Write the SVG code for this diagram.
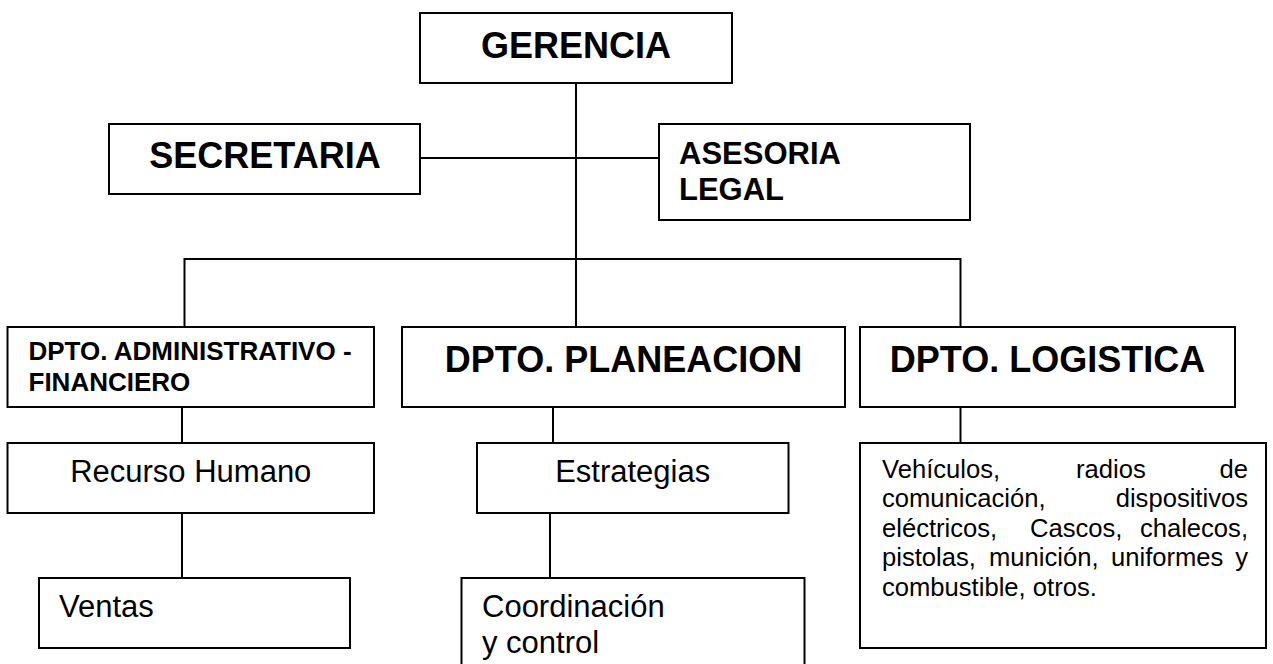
<svg xmlns="http://www.w3.org/2000/svg" width="1273" height="664" viewBox="0 0 1273 664">
<style>
.box{fill:#fff;stroke:#000;stroke-width:2}
.ln{fill:none;stroke:#000;stroke-width:2}
.t{font-family:"Liberation Sans",Arial,sans-serif;fill:#000}
.b36{font-weight:bold;font-size:36px}
.b31{font-weight:bold;font-size:31px}
.b26{font-weight:bold;font-size:26px}
.r31{font-size:31px}
.r26{font-size:25.6px}
.c{text-anchor:middle}
.e{text-anchor:end}
</style>
<rect width="1273" height="664" fill="#fff"/>
<g id="connectors">
<path class="ln" d="M576,83V327"/>
<path class="ln" d="M420,158H659"/>
<path class="ln" d="M184.5,327V259H960.5V327"/>
<path class="ln" d="M182,407V443"/>
<path class="ln" d="M553,407V443"/>
<path class="ln" d="M960.5,407V443"/>
<path class="ln" d="M182,513V578"/>
<path class="ln" d="M550,513V578"/>
</g>
<g id="gerencia">
<rect class="box" x="420" y="13" width="312" height="70"/>
<text class="t b36 c" x="576" y="58">GERENCIA</text>
</g>
<g id="secretaria">
<rect class="box" x="109" y="124" width="311" height="70"/>
<text class="t b36 c" x="265" y="168">SECRETARIA</text>
</g>
<g id="asesoria">
<rect class="box" x="659" y="124" width="311" height="96"/>
<text class="t b31" x="679" y="164">ASESORIA</text>
<text class="t b31" x="679" y="200">LEGAL</text>
</g>
<g id="dpto-admin">
<rect class="box" x="7.5" y="327" width="366.5" height="80"/>
<text class="t b26" x="28.5" y="360">DPTO. ADMINISTRATIVO -</text>
<text class="t b26" x="28.5" y="391">FINANCIERO</text>
</g>
<g id="dpto-planeacion">
<rect class="box" x="402" y="327" width="443" height="80"/>
<text class="t b36 c" x="623.5" y="371.5">DPTO. PLANEACION</text>
</g>
<g id="dpto-logistica">
<rect class="box" x="860" y="327" width="375" height="80"/>
<text class="t b36 c" x="1047.5" y="371.5">DPTO. LOGISTICA</text>
</g>
<g id="recurso-humano">
<rect class="box" x="7.5" y="443" width="366.5" height="70"/>
<text class="t r31 c" x="190.75" y="482">Recurso Humano</text>
</g>
<g id="estrategias">
<rect class="box" x="477" y="443" width="311.5" height="70"/>
<text class="t r31 c" x="632.7" y="482">Estrategias</text>
</g>
<g id="logistica-items">
<rect class="box" x="860" y="443" width="406" height="205"/>
<text class="t r26" x="882" y="477.5">Vehículos,</text>
<text class="t r26" x="1076" y="477.5">radios</text>
<text class="t r26 e" x="1248" y="477.5">de</text>
<text class="t r26" x="882" y="507">comunicación,</text>
<text class="t r26 e" x="1248" y="507">dispositivos</text>
<text class="t r26" x="882" y="536.5">eléctricos,</text>
<text class="t r26" x="1030" y="536.5">Cascos,</text>
<text class="t r26 e" x="1248" y="536.5">chalecos,</text>
<text class="t r26" x="882" y="566">pistolas,</text>
<text class="t r26" x="989" y="566">munición,</text>
<text class="t r26" x="1111" y="566">uniformes</text>
<text class="t r26 e" x="1248" y="566">y</text>
<text class="t r26" x="882" y="595.5">combustible, otros.</text>
</g>
<g id="ventas">
<rect class="box" x="39" y="578" width="311" height="70"/>
<text class="t r31" x="59" y="617">Ventas</text>
</g>
<g id="coordinacion">
<rect class="box" x="461.5" y="578" width="343" height="110"/>
<text class="t r31" x="482" y="617">Coordinación</text>
<text class="t r31" x="482" y="652.7">y control</text>
</g>
</svg>
